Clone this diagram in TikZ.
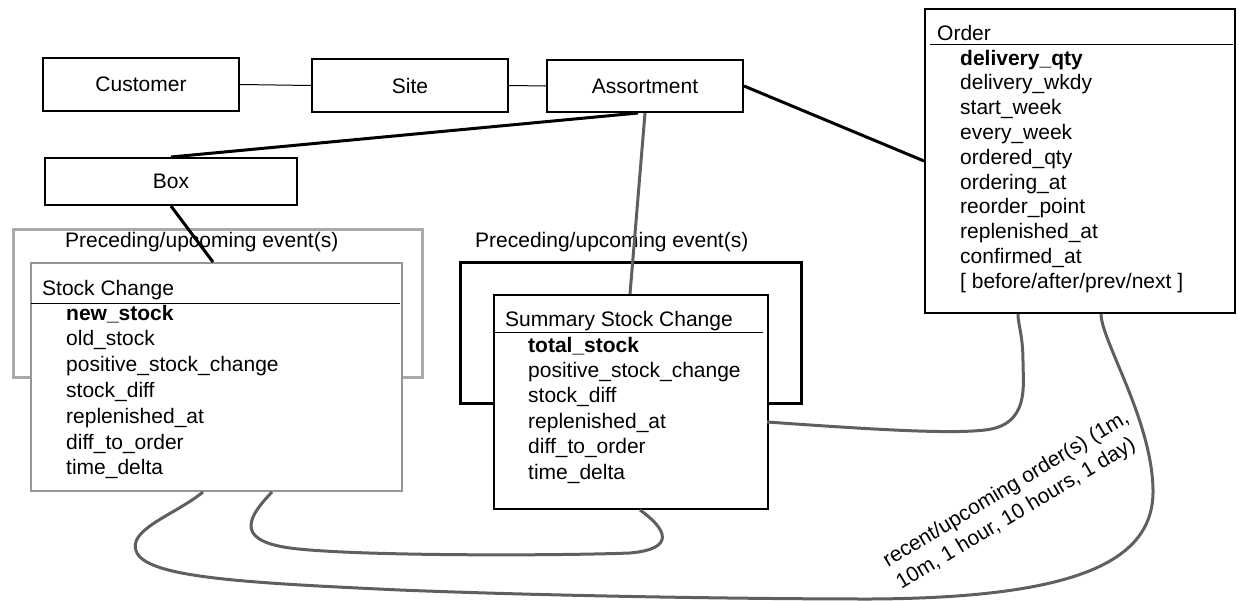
\documentclass[tikz,border=0pt]{standalone}
\usepackage{fontspec}
\setmainfont{Liberation Sans}
\usetikzlibrary{calc}
\newcommand\dfont{\fontsize{21}{25}\selectfont}
\newcommand\rfont{\fontsize{21}{26}\selectfont}
\definecolor{conngray}{RGB}{95,95,95}
\definecolor{outergray}{RGB}{170,170,170}
\definecolor{innergray}{RGB}{150,150,150}
\begin{document}
\begin{tikzpicture}[x=1pt,y=-1pt,
  ent/.style={draw, line width=2pt, fill=white, inner sep=0pt, anchor=north west, font=\dfont},
  lbl/.style={inner sep=0pt, anchor=base west, font=\dfont},
  conthin/.style={draw, line width=1pt},
  conthick/.style={draw, line width=3pt},
  conngrayline/.style={draw=conngray, line width=3pt},
  outerbox/.style={draw, line width=3pt, inner sep=0pt, anchor=north west},
  sepline/.style={draw, line width=1pt}
]
\useasboundingbox (0,0) rectangle (1239,600);

% outer frames (behind)
\node[outerbox, draw=outergray, minimum width=409pt, minimum height=148pt] (scouter) at (12,228) {};
\node[outerbox, draw=black, minimum width=341pt, minimum height=141pt] (sscouter) at (459,261) {};
\node[lbl] (prec1) at (65,247) {Preceding/upcoming event(s)};
\node[lbl] (prec2) at (475,247) {Preceding/upcoming event(s)};

% simple entities
\node[ent, minimum width=196pt, minimum height=53pt] (cust) at (42,57) {Customer};
\node[ent, minimum width=196pt, minimum height=53pt] (site) at (311,58) {Site};
\node[ent, minimum width=196pt, minimum height=52pt] (asst) at (546,59) {Assortment};
\node[ent, minimum width=252pt, minimum height=47pt] (box) at (44,157) {Box};

% Order
\node[ent, minimum width=310pt, minimum height=304pt] (order) at (924,8) {};
\node[lbl] (ordt) at (937,40) {Order};
\draw[sepline] (930,44) -- (1233,44);
\node[lbl] (ord0) at (960,65) {\textbf{delivery\_qty}};
\foreach \t [count=\i] in {delivery\_wkdy, start\_week, every\_week, ordered\_qty, ordering\_at, reorder\_point, replenished\_at, confirmed\_at, {[ before/after/prev/next ]}}
  \node[lbl] (ord\i) at (960,65+24.8*\i) {\t};

% Stock Change
\node[ent, draw=innergray, minimum width=371pt, minimum height=228pt] (sc) at (30,262) {};
\node[lbl] (sct) at (42,295) {Stock Change};
\draw[sepline] (31,303) -- (400,303);
\node[lbl] (sc0) at (66,320) {\textbf{new\_stock}};
\foreach \t [count=\i] in {old\_stock, positive\_stock\_change, stock\_diff, replenished\_at, diff\_to\_order, time\_delta}
  \node[lbl] (sc\i) at (66,320+25.8*\i) {\t};

% Summary Stock Change
\node[ent, minimum width=274pt, minimum height=214pt] (ssc) at (493,294) {};
\node[lbl] (ssct) at (505,326) {Summary Stock Change};
\draw[sepline] (494,332) -- (763,332);
\node[lbl] (ssc0) at (528,352) {\textbf{total\_stock}};
\foreach \t [count=\i] in {positive\_stock\_change, stock\_diff, replenished\_at, diff\_to\_order, time\_delta}
  \node[lbl] (ssc\i) at (528,352+25.4*\i) {\t};

% straight connectors
\draw[conthin] (cust.east) -- (site.west);
\draw[conthin] (site.east) -- (asst.west);
\draw[conthick] (asst.east) -- (order.west);
\draw[conthick] (638,0 |- asst.south) -- (box.north);
\draw[conthick] (box.south) -- (213,0 |- sc.north);
\draw[conngrayline] (asst.south) -- (630,0 |- ssc.north);

% curved connectors
\draw[conngrayline] (767,422) .. controls (880,430) and (950,434) .. (985,430)
  .. controls (1030,425) and (1023,385) .. (1023,362)
  .. controls (1023,335) and (1018,325) .. (1018,0 |- order.south);
\draw[conngrayline] (272,0 |- sc.south) .. controls (250,515) and (232,540) .. (290,548)
  .. controls (350,556) and (550,556) .. (630,553)
  .. controls (675,549) and (668,530) .. (640,0 |- ssc.south);
\draw[conngrayline] (203,0 |- sc.south) .. controls (175,515) and (125,530) .. (137,553)
  .. controls (150,578) and (250,583) .. (400,590)
  .. controls (550,596) and (750,599) .. (870,599)
  .. controls (1080,598) and (1154,560) .. (1153,490)
  .. controls (1152,420) and (1101,340) .. (1101,0 |- order.south);

% label
\node[inner sep=0pt, font=\rfont, rotate=31, align=left, anchor=center] (rl) at (1013,501) {recent/upcoming order(s) (1m,\\10m, 1 hour, 10 hours, 1 day)};
\end{tikzpicture}
\end{document}
